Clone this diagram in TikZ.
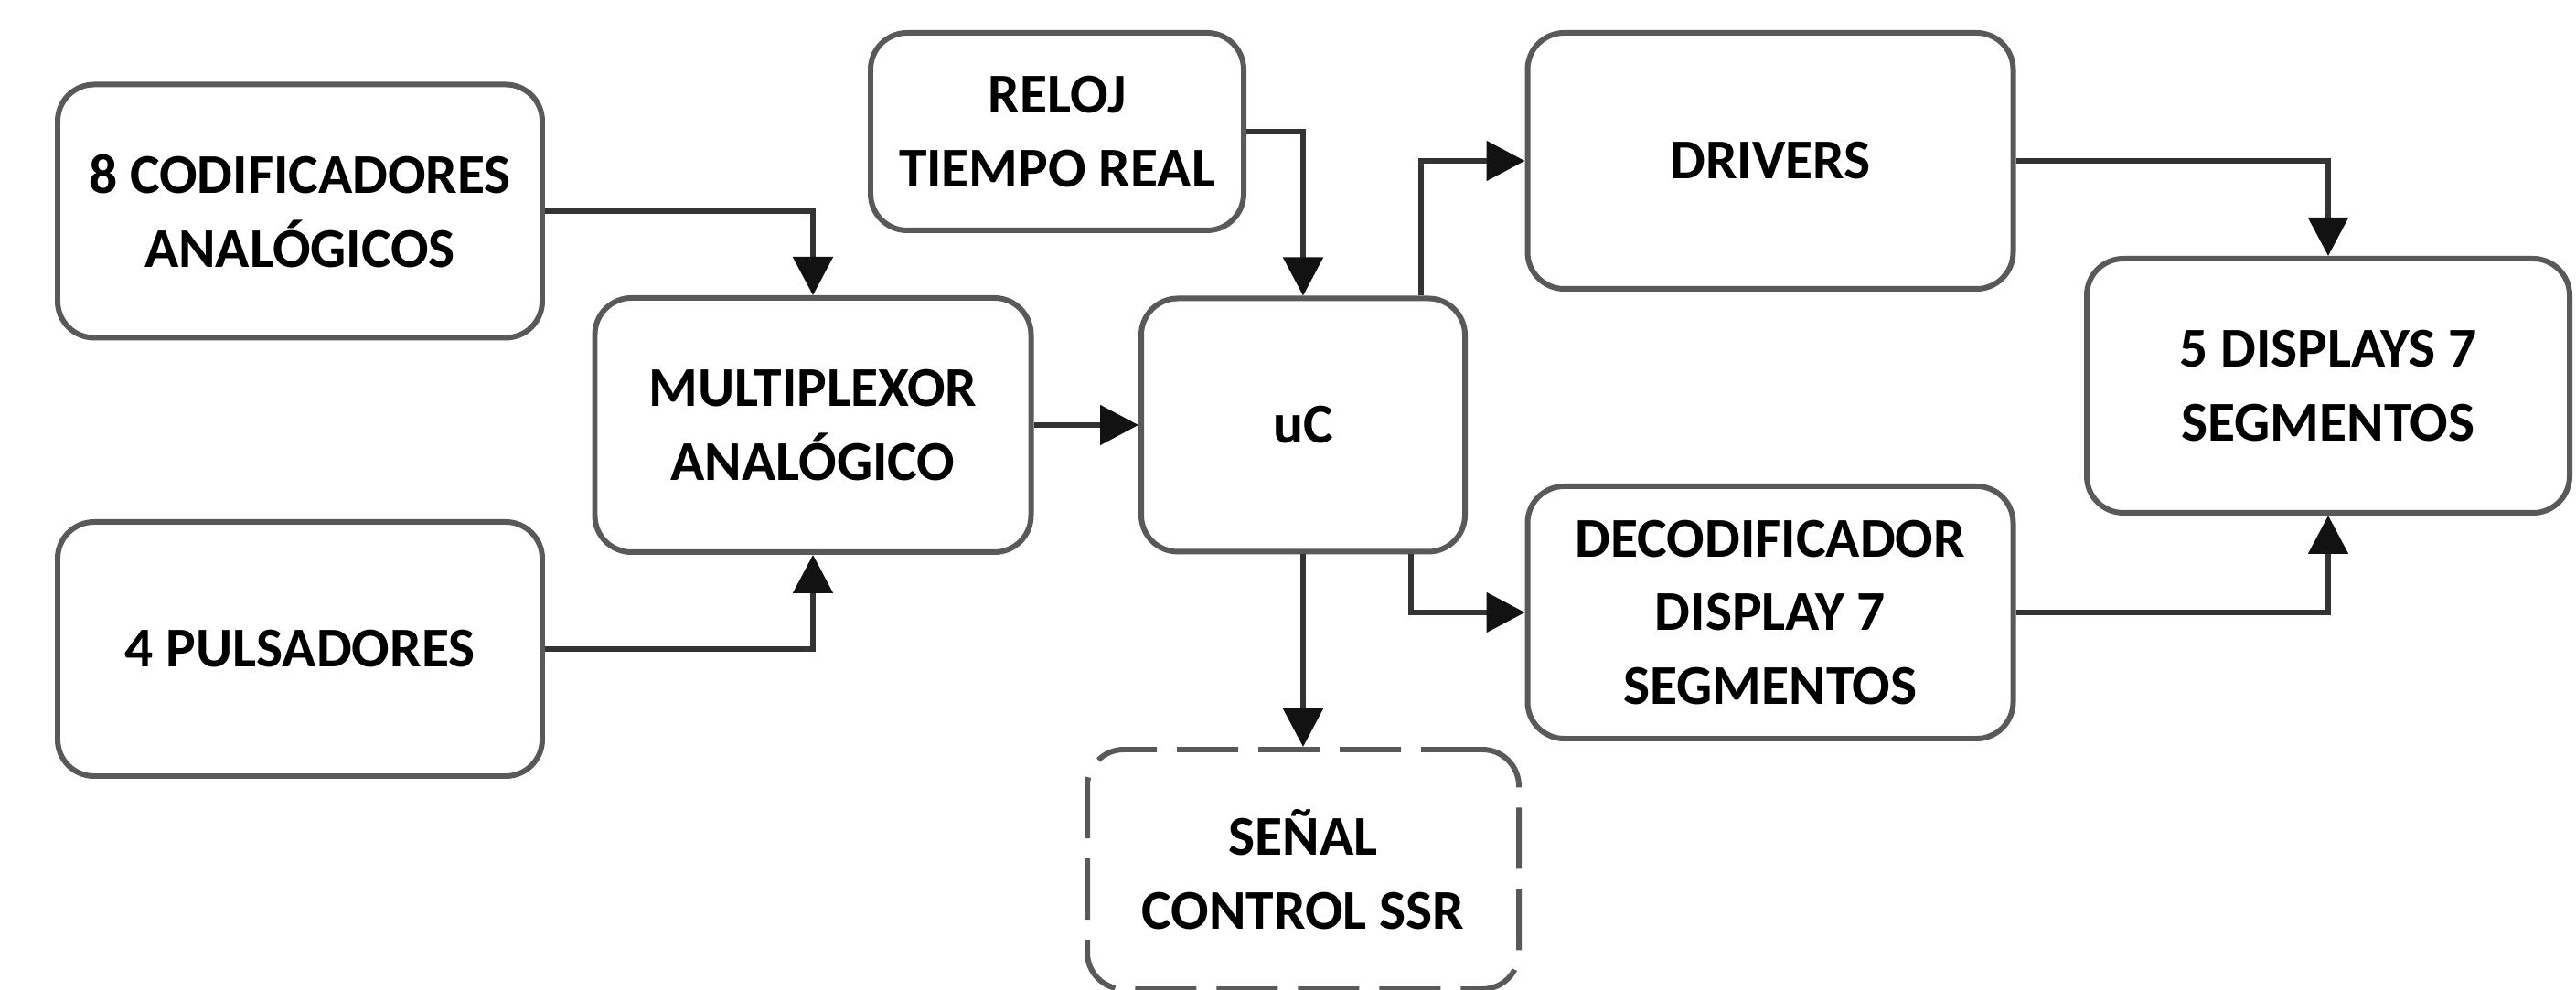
\documentclass[tikz,border=0pt]{standalone}
\usepackage{fontspec}
\setmainfont{Carlito}
\usepackage{tikz}
\usetikzlibrary{arrows.meta}

\begin{document}
\begin{tikzpicture}[
  blk/.style={draw=black!65, line width=1.7pt, rounded corners=0.4cm, align=center,
    font=\bfseries\fontsize{17.5}{23}\selectfont, inner sep=0pt},
  lnk/.style={draw=black!80, line width=1.5pt, -{Triangle[length=4.2mm,width=4.3mm,color=black!93]}}
]
\useasboundingbox (0,0) rectangle (28.17,10.83);

\node[blk, minimum width=5.30cm, minimum height=2.77cm] (cod) at (3.28,8.52) {8 CODIFICADORES\\ANALÓGICOS};
\node[blk, minimum width=5.30cm, minimum height=2.78cm] (pul) at (3.28,3.73) {4 PULSADORES};
\node[blk, minimum width=4.77cm, minimum height=2.78cm] (mux) at (8.89,6.18) {MULTIPLEXOR\\ANALÓGICO};
\node[blk, minimum width=4.08cm, minimum height=2.16cm] (rel) at (11.56,9.39) {RELOJ\\TIEMPO REAL};
\node[blk, minimum width=3.54cm, minimum height=2.77cm] (uc) at (14.25,6.18) {uC};
\node[blk, minimum width=5.31cm, minimum height=2.80cm] (drv) at (19.36,9.07) {DRIVERS};
\node[blk, minimum width=5.31cm, minimum height=2.76cm] (dec) at (19.36,4.13) {DECODIFICADOR\\DISPLAY 7\\SEGMENTOS};
\node[blk, minimum width=5.28cm, minimum height=2.78cm] (dsp) at (25.46,6.61) {5 DISPLAYS 7\\SEGMENTOS};
\node[blk, dash pattern=on 0.67cm off 0.22cm, minimum width=4.72cm, minimum height=2.62cm] (ssr) at (14.25,1.32) {SEÑAL\\CONTROL SSR};

\draw[lnk] (cod.east) -| (mux.north);
\draw[lnk] (pul.east) -| (mux.south);
\draw[lnk] (mux.east) -- (uc.west);
\draw[lnk] (rel.east) -| (uc.north);
\draw[lnk] ([xshift=-0.51cm]uc.north east) |- (drv.west);
\draw[lnk] ([xshift=-0.62cm]uc.south east) |- (dec.west);
\draw[lnk] (uc.south) -- (ssr.north);
\draw[lnk] (drv.east) -| (dsp.north);
\draw[lnk] (dec.east) -| (dsp.south);

\end{tikzpicture}
\end{document}
